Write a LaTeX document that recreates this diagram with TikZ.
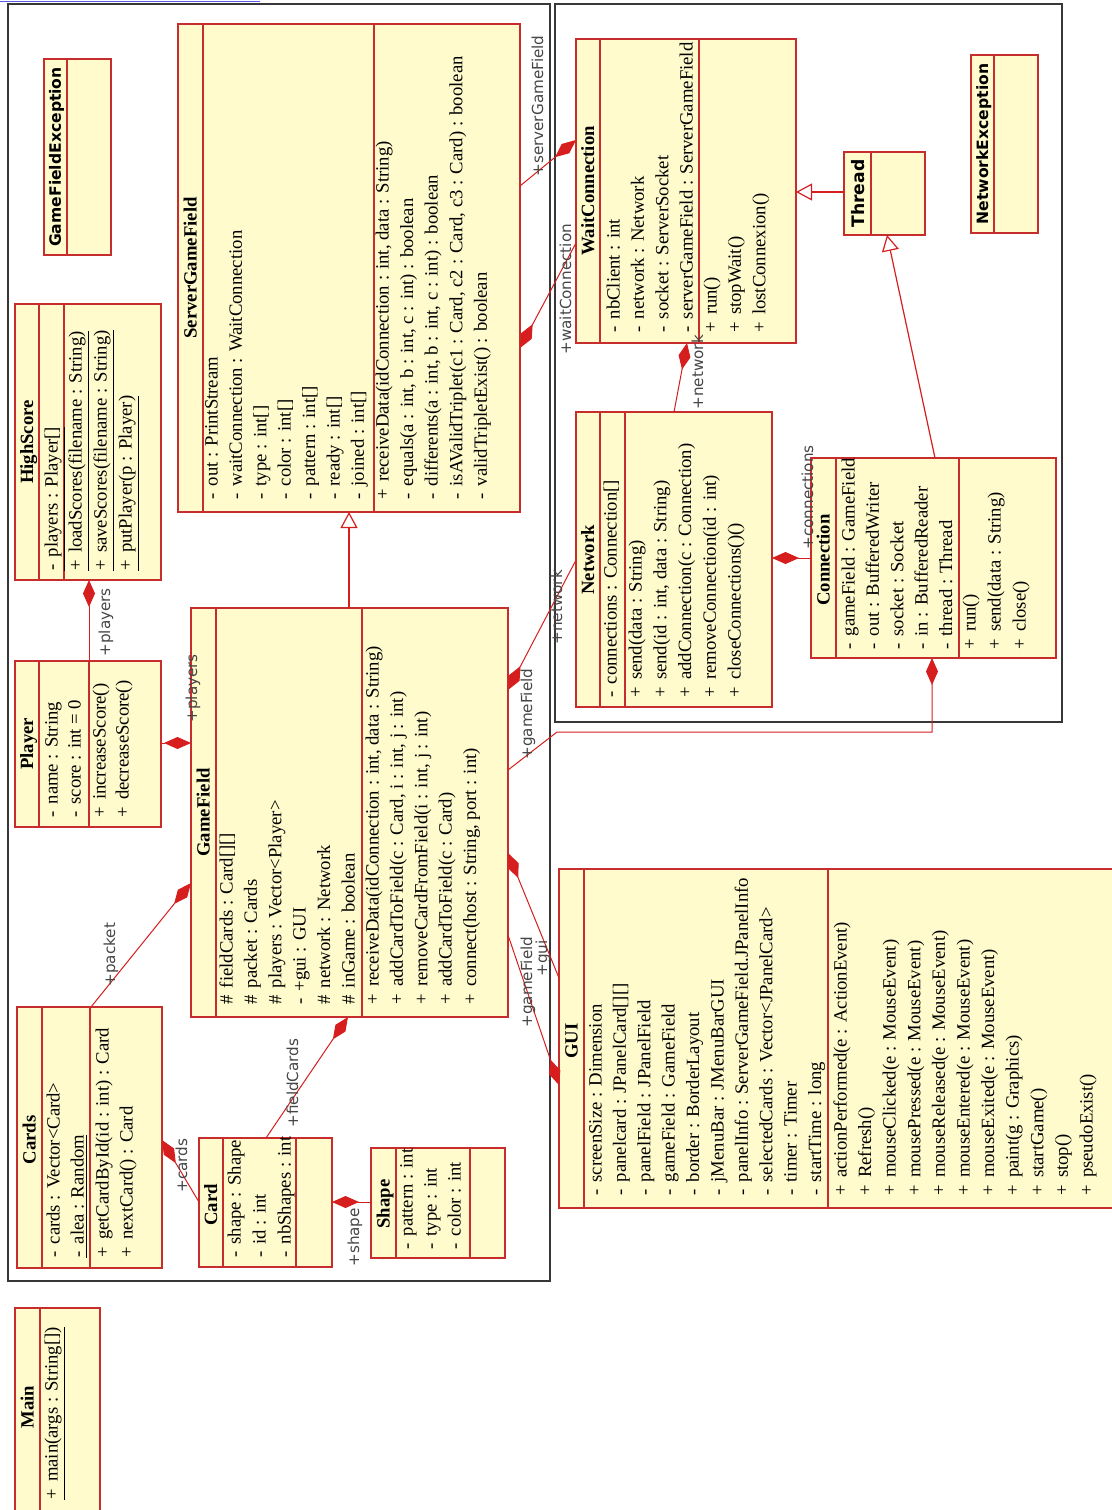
\documentclass[tikz,border=0pt]{standalone}
\usepackage{fontspec}
\setmainfont{Liberation Serif}
\newfontfamily\lblfont{DejaVu Sans}
\usetikzlibrary{arrows.meta,fit}
\definecolor{boxfill}{RGB}{255,251,204}
\definecolor{boxred}{RGB}{200,45,45}
\definecolor{linkred}{RGB}{215,30,30}
\definecolor{framegray}{RGB}{55,55,55}
\definecolor{lblgray}{RGB}{70,70,70}
\definecolor{toplink}{RGB}{90,90,235}
\newcommand\memfont{\fontsize{9.35}{11}\selectfont}
\newcommand\visP{+\hspace{0.38em}}
\newcommand\visM{-\hspace{0.38em}}
\newcommand\visH{\#\hspace{0.38em}}
% #1 prefix, #2 first line centre x, #3 start y, #4 step, #5 list
\newcommand\mems[5]{\foreach \mtxt [count=\idx from 0] in {#5} {\node[mem] (#1\idx) at ({#2+5.5+#4*\idx},#3) {\mtxt};}}
\newcommand\cbox[5]{\node[cls, fit={(#2,#3) (#4,#5)}] (#1) {};}
\tikzset{
  cls/.style={draw=boxred, fill=boxfill, line width=0.65pt, inner sep=0pt, outer sep=0pt},
  divl/.style={draw=boxred, line width=0.65pt},
  mem/.style={rotate=90, anchor=base west, inner sep=0pt, font=\memfont},
  nm/.style={rotate=90, anchor=base, inner sep=0pt, font=\memfont\bfseries},
  snm/.style={rotate=90, anchor=base, inner sep=0pt, font=\lblfont\bfseries\fontsize{7.8}{9}\selectfont},
  lbl/.style={rotate=90, anchor=base west, inner sep=0pt, text=lblgray, font=\lblfont\fontsize{7.6}{9}\selectfont},
  comp/.style={draw=linkred, line width=0.5pt, -{Diamond[length=13.5pt,width=6pt]}},
  gen/.style={draw=linkred, line width=0.6pt, -{Triangle[open,length=8pt,width=8.5pt,fill=white]}},
  frame/.style={draw=framegray, line width=0.7pt}
}
\begin{document}
\begin{tikzpicture}[x=0.5pt,y=-0.5pt]
\useasboundingbox (0,0) rectangle (1112,1510);
\fill[white] (0,0) rectangle (1112,1510);
\draw[toplink, line width=0.8pt] (0,1.5) -- (260,1.5);
\draw[frame] (8,4) rectangle (550,1281);
\draw[frame] (555,4) rectangle (1062,722);

% ---------- GameFieldException
\cbox{GFE}{44}{59}{111}{255}
\draw[divl] (67,59) -- (67,255);
\node[snm] (GFEn) at (61,157) {GameFieldException};

% ---------- HighScore
\cbox{HS}{15}{304}{161}{580}
\draw[divl] (39,304) -- (39,580);
\draw[divl] (64,304) -- (64,580);
\node[nm] (HSn) at (33,442) {HighScore};
\mems{HSa}{52}{571}{24}{{\underline{\visM players : Player[]}}}
\mems{HSm}{76}{571}{25}{{\underline{\visP loadScores(filename : String)}},{\underline{\visP saveScores(filename : String)}},{\underline{\visP putPlayer(p : Player)}}}

% ---------- ServerGameField
\cbox{SGF}{178}{24}{520}{512}
\draw[divl] (203,24) -- (203,512);
\draw[divl] (374,24) -- (374,512);
\node[nm] (SGFn) at (196.5,268) {ServerGameField};
\mems{SGFa}{212}{500}{24.4}{{\visM out : PrintStream},{\visM waitConnection : WaitConnection},{\visM type : int[]},{\visM color : int[]},{\visM pattern : int[]},{\visM ready : int[]},{\visM joined : int[]}}
\mems{SGFm}{383}{500}{24.6}{{\visP receiveData(idConnection : int, data : String)},{\visM equals(a : int, b : int, c : int) : boolean},{\visM differents(a : int, b : int, c : int) : boolean},{\visM isAValidTriplet(c1 : Card, c2 : Card, c3 : Card) : boolean},{\visM validTripletExist() : boolean}}

% ---------- WaitConnection
\cbox{WC}{576}{39}{796}{343}
\draw[divl] (600,39) -- (600,343);
\draw[divl] (699,39) -- (699,343);
\node[nm] (WCn) at (594,191) {WaitConnection};
\mems{WCa}{614}{333}{24.4}{{\visM nbClient : int},{\visM network : Network},{\visM socket : ServerSocket},{\visM serverGameField : ServerGameField}}
\mems{WCm}{711}{333}{24.4}{{\visP run()},{\visP stopWait()},{\visP lostConnexion()}}

% ---------- Thread
\cbox{TH}{844}{152}{925}{235}
\draw[divl] (871,152) -- (871,235);
\node[rotate=90, anchor=base, inner sep=0pt, font=\lblfont\bfseries\fontsize{8.6}{10}\selectfont] (THn) at (864,193.5) {Thread};

% ---------- NetworkException
\cbox{NE}{971}{55}{1038}{233}
\draw[divl] (994,55) -- (994,233);
\node[snm] (NEn) at (988,144) {NetworkException};

% ---------- Network
\cbox{NW}{576}{412}{772}{707}
\draw[divl] (600,412) -- (600,707);
\draw[divl] (625,412) -- (625,707);
\node[nm] (NWn) at (594,560) {Network};
\mems{NWa}{611}{698}{24}{{\visM connections : Connection[]}}
\mems{NWm}{636}{698}{24.8}{{\visP send(data : String)},{\visP send(id : int, data : String)},{\visP addConnection(c : Connection)},{\visP removeConnection(id : int)},{\visP closeConnections()()}}

% ---------- Connection
\cbox{CO}{811}{458}{1056}{658}
\draw[divl] (836,458) -- (836,658);
\draw[divl] (959,458) -- (959,658);
\node[nm] (COn) at (829.5,560) {Connection};
\mems{COa}{849}{650}{24.4}{{\visM gameField : GameField},{\visM out : BufferedWriter},{\visM socket : Socket},{\visM in : BufferedReader},{\visM thread : Thread}}
\mems{COm}{970}{650}{25}{{\visP run()},{\visP send(data : String)},{\visP close()}}

% ---------- GameField
\cbox{GF}{191}{608}{508}{1017}
\draw[divl] (216,608) -- (216,1017);
\draw[divl] (362,608) -- (362,1017);
\node[nm] (GFn) at (209.5,812.5) {GameField};
\mems{GFa}{227}{1005}{24.4}{{\visH fieldCards : Card[][]},{\visH packet : Cards},{\visH players : Vector<Player>},{\visM +gui : GUI},{\visH network : Network},{\visH inGame : boolean}}
\mems{GFm}{373}{1005}{24.4}{{\visP receiveData(idConnection : int, data : String)},{\visP addCardToField(c : Card, i : int, j : int)},{\visP removeCardFromField(i : int, j : int)},{\visP addCardToField(c : Card)},{\visP connect(host : String, port : int)}}

% ---------- Player
\cbox{PL}{15}{661}{161}{827}
\draw[divl] (39,661) -- (39,827);
\draw[divl] (89,661) -- (89,827);
\node[nm] (PLn) at (33,744) {Player};
\mems{PLa}{52}{818}{23}{{\visM name : String},{\visM score : int = 0}}
\mems{PLm}{100}{818}{23}{{\visP increaseScore()},{\visP decreaseScore()}}

% ---------- Cards
\cbox{CA}{17}{1007}{162}{1268}
\draw[divl] (42,1007) -- (42,1268);
\draw[divl] (90,1007) -- (90,1268);
\node[nm] (CAn) at (35.5,1140) {Cards};
\mems{CAa}{54}{1258}{24}{{\visM cards : Vector<Card>},{\underline{\visM alea : Random}}}
\mems{CAm}{103}{1258}{24}{{\visP getCardById(id : int) : Card},{\visP nextCard() : Card}}

% ---------- Card
\cbox{CD}{199}{1138}{332}{1267}
\draw[divl] (223,1138) -- (223,1267);
\draw[divl] (296,1138) -- (296,1267);
\node[nm] (CDn) at (217,1205) {Card};
\mems{CDa}{235}{1258}{25}{{\visM shape : Shape},{\visM id : int},{\visM nbShapes : int}}

% ---------- Shape
\cbox{SH}{371}{1148}{505}{1258}
\draw[divl] (396,1148) -- (396,1258);
\draw[divl] (470,1148) -- (470,1258);
\node[nm] (SHn) at (389.5,1204) {Shape};
\mems{SHa}{407}{1250}{24}{{\visM pattern : int},{\visM type : int},{\visM color : int}}

% ---------- GUI
\cbox{GUI}{559}{869}{1118}{1208}
\draw[divl] (584,869) -- (584,1208);
\draw[divl] (828,869) -- (828,1208);
\node[nm] (GUIn) at (577.5,1041) {GUI};
\mems{GUIa}{596}{1196}{24.4}{{\visM screenSize : Dimension},{\visM panelcard : JPanelCard[][]},{\visM panelField : JPanelField},{\visM gameField : GameField},{\visM border : BorderLayout},{\visM jMenuBar : JMenuBarGUI},{\visM panelInfo : ServerGameField.JPanelInfo},{\visM selectedCards : Vector<JPanelCard>},{\visM timer : Timer},{\visM startTime : long}}
\mems{GUIm}{841}{1196}{24.6}{{\visP actionPerformed(e : ActionEvent)},{\visP Refresh()},{\visP mouseClicked(e : MouseEvent)},{\visP mousePressed(e : MouseEvent)},{\visP mouseReleased(e : MouseEvent)},{\visP mouseEntered(e : MouseEvent)},{\visP mouseExited(e : MouseEvent)},{\visP paint(g : Graphics)},{\visP startGame()},{\visP stop()},{\visP pseudoExist()}}

% ---------- Main
\cbox{MA}{15}{1308}{100}{1518}
\draw[divl] (40,1308) -- (40,1518);
\node[nm] (MAn) at (33.5,1407) {Main};
\mems{MAm}{52}{1500}{24}{{\underline{\visP main(args : String[])}}}

% ---------- connectors
\draw[comp] (PL.north -| 89,0) -- (HS.south -| 89,0);
\draw[comp] (PL.east |- 0,743) -- (GF.west |- 0,743);
\draw[comp] (CA.north -| 91,0) -- (GF.west |- 0,883);
\draw[comp] (CD.west |- 0,1202) -- (CA.east |- 0,1140);
\draw[comp] (CD.north -| 266,0) -- (GF.south -| 348,0);
\draw[comp] (SH.west |- 0,1202) -- (CD.east |- 0,1202);
\draw[gen] (GF.north -| 349,0) -- (SGF.south -| 349,0);
\draw[comp] (SGF.east |- 0,186) -- (WC.west |- 0,140);
\draw[comp] (WC.west |- 0,243) -- (SGF.east |- 0,348);
\draw[comp] (NW.north -| 674,0) -- (WC.south -| 687,0);
\draw[gen] (TH.west |- 0,192) -- (WC.east |- 0,192);
\draw[gen] (CO.north -| 935,0) -- (TH.south -| 887,0);
\draw[comp] (CO.west |- 0,558) -- (NW.east |- 0,558);
\draw[comp] (NW.west |- 0,560) -- (GF.east |- 0,690);
\coordinate (k1) at (932,732);
\coordinate (k2) at (557,732);
\draw[comp] (GF.east |- 0,770) -- (k2) -- (k1) -- (CO.south -| 932,0);
\draw[comp] (GUI.west |- 0,978) -- (GF.east |- 0,853);
\draw[comp] (GF.east |- 0,935) -- (GUI.west |- 0,1085);

% ---------- role labels
\node[lbl] (L1) at (110,657) {+players};
\node[lbl] (L2) at (197,723) {+players};
\node[lbl] (L3) at (115,987) {+packet};
\node[lbl] (L4) at (187,1193) {+cards};
\node[lbl] (L5) at (298,1128) {+fieldCards};
\node[lbl] (L6) at (359,1267) {+shape};
\node[lbl] (L7) at (543,177) {+serverGameField};
\node[lbl] (L8) at (571,355) {+waitConnection};
\node[lbl] (L9) at (703,410) {+network};
\node[lbl] (L10) at (813,550) {+connections};
\node[lbl] (L11) at (562,645) {+network};
\node[lbl] (L12) at (532,760) {+gameField};
\node[lbl] (L13) at (547,977) {+gui};
\node[lbl] (L14) at (532,1028) {+gameField};
\end{tikzpicture}
\end{document}
